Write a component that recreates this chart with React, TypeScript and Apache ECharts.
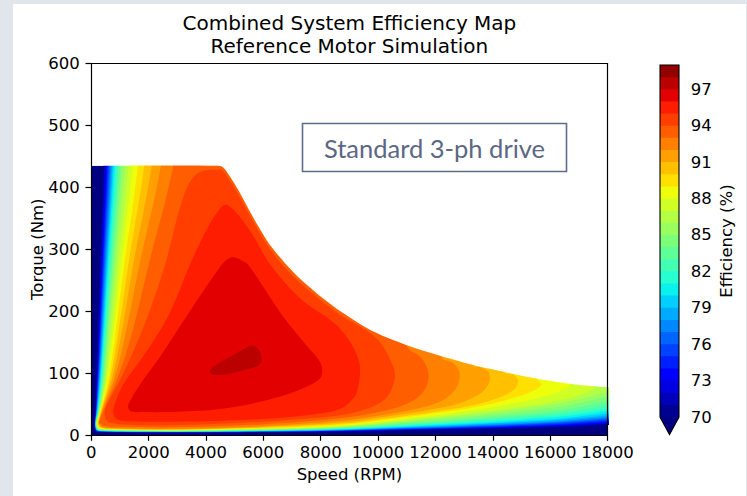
import React, { useEffect, useRef } from 'react';
import * as echarts from 'echarts';

// ---------- texts ----------
const TITLE_LINES = ['Combined System Efficiency Map', 'Reference Motor Simulation'];
const X_NAME = 'Speed (RPM)';
const Y_NAME = 'Torque (Nm)';
const CBAR_NAME = 'Efficiency (%)';
const NOTE = 'Standard 3-ph drive';

// ---------- axes ----------
const SPEED_MIN = 0;
const SPEED_MAX = 18000;
const SPEED_STEP = 2000;
const TORQUE_MIN = 0;
const TORQUE_MAX = 600;
const TORQUE_STEP = 100;
const LEVEL_MIN = 70;
const LEVEL_MAX = 99;
const CBAR_TICKS = [70, 73, 76, 79, 82, 85, 88, 91, 94, 97];

// ---------- torque envelope (max torque vs speed) ----------
const ENVELOPE_SPEED = [0, 4450, 4600, 4800, 5120, 5700, 6280, 7090, 8020, 8780, 9840, 11000, 12160, 13320, 14490, 15650, 16810, 18000];
const ENVELOPE_TORQUE = [435, 435, 432, 420, 396, 347, 304, 261, 223, 197, 167, 145, 128, 113, 101, 90, 82, 77];

// ---------- contour regions: efficiency >= level, [speed, torque] ----------
const LEVEL_70 = [[420,470],[420,433],[300,275],[245,194],[205,130],[170,85],[140,40],[120,20],[145,6.8],[240,4.9],[1000,4.2],[3000,3.8],[6000,4.4],[8672,5.5],[11000,7.3],[13000,9.0],[15000,11.0],[16500,12.9],[18000,16],[18600,17.6],[18600,470]];
const LEVEL_71 = [[450,470],[450,433],[322,275],[263,194],[218,130],[180,85],[146,40],[123,20],[148,7.0],[243,5.1],[1000,4.3],[3000,3.9],[6000,4.6],[8672,5.8],[11000,7.7],[13000,9.5],[15000,11.6],[16500,13.6],[18000,17],[18600,18.7],[18600,470]];
const LEVEL_72 = [[480,470],[480,433],[345,275],[282,194],[232,130],[190,85],[152,40],[126,20],[151,7.2],[246,5.2],[1000,4.4],[3000,4.0],[6000,4.7],[8672,6.1],[11000,8.1],[13000,10.0],[15000,12.3],[16500,14.4],[18000,18],[18600,19.8],[18600,470]];
const LEVEL_73 = [[512,470],[512,433],[368,275],[300,194],[246,130],[200,85],[158,40],[129,20],[154,7.4],[249,5.3],[1000,4.5],[3000,4.1],[6000,4.9],[8672,6.4],[11000,8.6],[13000,10.7],[15000,13.2],[16500,15.6],[18000,19.5],[18600,21.5],[18600,470]];
const LEVEL_74 = [[545,470],[545,433],[392,275],[320,194],[262,130],[212,85],[165,40],[132,20],[157,7.7],[252,5.6],[1000,4.7],[3000,4.3],[6000,5.1],[8672,6.7],[11000,9.1],[13000,11.4],[15000,14.1],[16500,16.7],[18000,21],[18600,23],[18600,470]];
const LEVEL_75 = [[580,470],[580,433],[418,275],[340,194],[278,130],[225,85],[172,40],[135,20],[160,8.1],[255,5.9],[1000,5.0],[3000,4.5],[6000,5.4],[8672,7.0],[11000,9.7],[13000,12.3],[15000,15.3],[16500,18.2],[18000,23],[18600,25],[18600,470]];
const LEVEL_76 = [[620,470],[620,433],[446,275],[362,194],[296,130],[240,85],[180,40],[138,20],[163,8.5],[258,6.1],[1000,5.2],[3000,4.7],[6000,5.6],[8672,7.3],[11000,10.3],[13000,13.1],[15000,16.5],[16500,19.7],[18000,25],[18600,27.5],[18600,470]];
const LEVEL_77 = [[660,470],[660,433],[475,275],[385,194],[315,130],[255,85],[188,40],[141,20],[166,8.8],[261,6.4],[1000,5.4],[3000,4.9],[6000,5.9],[8672,7.7],[11000,11.0],[13000,14.1],[15000,17.7],[16500,21.2],[18000,27],[18600,29.7],[18600,470]];
const LEVEL_78 = [[700,470],[700,433],[505,275],[410,194],[335,130],[272,85],[197,40],[144,20],[169,9.2],[264,6.6],[1000,5.6],[3000,5.1],[6000,6.1],[8672,8.1],[11000,11.7],[13000,15.0],[15000,19.0],[16500,22.7],[18000,29],[18600,32],[18600,470]];
const LEVEL_79 = [[740,470],[740,433],[537,275],[436,194],[356,130],[290,85],[207,40],[148,20],[173,9.5],[268,6.9],[1000,5.8],[3000,5.3],[6000,6.4],[8672,8.5],[11000,12.5],[13000,16.3],[15000,20.7],[16500,25.0],[18000,32],[18600,35],[18600,470]];
const LEVEL_80 = [[780,470],[780,433],[570,275],[462,194],[378,130],[310,85],[218,40],[152,20],[177,9.9],[272,7.2],[1000,6.1],[3000,5.5],[6000,6.7],[8672,9.0],[11000,13.4],[13000,17.6],[15000,22.5],[16500,27.2],[18000,35],[18600,38.5],[18600,470]];
const LEVEL_81 = [[830,470],[830,433],[607,275],[492,194],[402,130],[330,85],[229,40],[156,20],[181,10.3],[276,7.4],[1000,6.3],[3000,5.7],[6000,7.0],[8672,9.5],[11000,14.5],[13000,19.2],[15000,24.8],[16500,30.2],[18000,39],[18600,43],[18600,470]];
const LEVEL_82 = [[880,470],[880,433],[645,275],[523,194],[427,130],[352,85],[240,40],[161,20],[186,10.6],[281,7.7],[1000,6.5],[3000,5.9],[6000,7.3],[8672,10.0],[11000,15.6],[13000,20.9],[15000,27.2],[16500,33.1],[18000,43],[18600,47],[18600,470]];
const LEVEL_83 = [[940,470],[940,433],[688,275],[558,194],[455,130],[375,85],[252,40],[166,20],[191,11.0],[286,7.9],[1000,6.7],[3000,6.1],[6000,7.7],[8672,10.7],[11000,17.0],[13000,23.0],[15000,30.1],[16500,36.8],[18000,48],[18600,53],[18600,470]];
const LEVEL_84 = [[1000,470],[1000,433],[735,275],[595,194],[485,130],[400,85],[264,40],[172,20],[197,11.5],[292,8.3],[1000,7.0],[3000,6.4],[6000,8.1],[8672,11.3],[11000,18.6],[13000,25.4],[15000,33.5],[16500,41.2],[18000,54],[18600,59],[18600,470]];
const LEVEL_85 = [[1080,470],[1080,433],[792,275],[640,194],[520,130],[428,85],[277,40],[179,20],[204,12.1],[299,8.7],[1000,7.4],[3000,6.7],[6000,8.6],[8672,12.0],[11000,20.5],[13000,28.5],[15000,38.0],[16500,47.0],[18000,62],[18600,68],[18600,470]];
const LEVEL_86 = [[1180,470],[1180,433],[860,275],[695,194],[563,130],[460,85],[290,40],[187,20],[212,12.6],[307,9.1],[1000,7.7],[3000,7.0],[6000,9.0],[8672,12.8],[11000,22.5],[13000,31.7],[15000,42.5],[16500,52.8],[18000,70],[18600,77],[18600,470]];
const LEVEL_87 = [[1300,470],[1300,433],[940,275],[760,194],[612,130],[495,85],[303,40],[196,20],[221,13.1],[316,9.5],[1000,8.0],[3000,7.3],[6000,9.7],[8672,13.7],[11000,24],[13000,34],[15000,46],[16500,58],[17300,70],[17550,79],[17550,470]];
const LEVEL_88 = [[1440,470],[1440,433],[1035,275],[835,194],[670,130],[535,85],[317,40],[206,20],[231,13.9],[326,10.0],[1000,8.5],[3000,7.7],[6000,10.3],[8672,15],[11000,26.5],[13000,38],[14500,49],[15600,60],[16400,72],[16700,82],[16700,470]];
const LEVEL_89 = [[1620,470],[1620,433],[1150,275],[925,194],[737,130],[580,85],[333,40],[218,20],[243,14.8],[338,10.7],[1000,9.0],[3000,8.2],[6000,11.1],[8672,16.5],[10500,26],[12000,35],[13500,46],[14600,58],[15400,71],[15700,82],[15550,91],[15550,470]];
const LEVEL_90 = [[1840,470],[1840,433],[1290,275],[1035,194],[815,130],[630,85],[350,40],[231,20],[256,15.8],[351,11.4],[1000,9.7],[3000,8.8],[6000,12.0],[8672,18],[10500,28],[12000,37.5],[13300,48],[14200,60],[14750,74],[14880,88],[14700,98],[14400,102],[14400,470]];
const LEVEL_91 = [[2100,470],[2100,433],[1460,275],[1165,194],[910,130],[690,85],[368,40],[245,20],[270,16.7],[365,12.1],[1000,10.2],[3000,9.3],[6000,13.1],[8672,20],[10300,30],[11700,40],[12800,51],[13500,65],[13850,82],[13870,100],[13600,109],[13300,113],[13300,470]];
const LEVEL_92 = [[2420,470],[2420,433],[1680,275],[1330,194],[1030,130],[760,85],[390,40],[260,20],[285,17.8],[380,12.9],[1000,10.9],[3000,9.9],[6000,14.5],[8672,23],[10000,31],[11300,42],[12200,55],[12700,74],[12850,98],[12650,115],[12200,127],[12200,470]];
const LEVEL_93 = [[2850,470],[2850,433],[2000,275],[1580,194],[1200,130],[850,85],[425,40],[280,20],[340,17.5],[480,14.5],[1000,13.2],[3000,12.4],[6000,17.5],[8672,27],[10300,40],[11200,55],[11650,75],[11750,100],[11500,125],[11000,145],[11000,470]];
const LEVEL_94 = [[3720,423],[4450,429],[4600,426],[4800,413],[5120,389],[5700,340],[6280,297],[7090,254],[8020,217],[8780,191],[9400,174],[9800,162],[10150,145],[10420,122],[10590,100],[10480,75],[10200,56],[9600,42],[8672,32],[6000,21.5],[3000,16],[1500,16.3],[800,18.5],[540,23],[475,40],[960,85],[1420,130],[1980,194],[2570,275],[3250,390]];
const LEVEL_95 = [[4660,372],[5000,362],[5600,325],[6250,275],[7300,220],[8540,178],[9050,148],[9330,120],[9370,100],[9300,76],[9150,60],[8672,42],[7500,32],[6000,26],[4500,23],[3000,21.5],[1800,21.5],[1100,23],[850,27],[780,33],[760,40],[900,60],[1160,85],[1850,130],[2700,194],[3440,275],[4000,330],[4400,360]];
const LEVEL_96 = [[4950,287],[5250,282],[5475,275],[6650,194],[7500,145],[7950,120],[8050,105],[7950,90],[7200,72],[6000,55],[4500,42],[3000,37.5],[1800,37],[1400,38],[1280,45],[1350,55],[1750,85],[2450,130],[3350,194],[4545,275],[4750,284]];
const LEVEL_97 = [[4130,104],[4350,113],[4700,123],[5100,133],[5450,142],[5650,144],[5850,137],[5940,124],[5880,114],[5650,109],[5200,103],[4750,98],[4400,97],[4200,99]];

const LEVEL_REGIONS = [
  LEVEL_70, LEVEL_71, LEVEL_72, LEVEL_73, LEVEL_74, LEVEL_75, LEVEL_76, LEVEL_77, LEVEL_78, LEVEL_79,
  LEVEL_80, LEVEL_81, LEVEL_82, LEVEL_83, LEVEL_84, LEVEL_85, LEVEL_86, LEVEL_87, LEVEL_88, LEVEL_89,
  LEVEL_90, LEVEL_91, LEVEL_92, LEVEL_93, LEVEL_94, LEVEL_95, LEVEL_96, LEVEL_97,
];

// ---------- jet colormap ----------
const JET_R = [[0, 0], [0.35, 0], [0.66, 1], [0.89, 1], [1, 0.5]];
const JET_G = [[0, 0], [0.125, 0], [0.375, 1], [0.64, 1], [0.91, 0], [1, 0]];
const JET_B = [[0, 0.5], [0.11, 1], [0.34, 1], [0.65, 0], [1, 0]];
function chan(t: number, pts: number[][]) {
  for (let k = 0; k < pts.length - 1; k++) {
    const [x0, y0] = pts[k];
    const [x1, y1] = pts[k + 1];
    if (t <= x1) return y0 + ((y1 - y0) * (t - x0)) / (x1 - x0);
  }
  return pts[pts.length - 1][1];
}
function jet(t: number) {
  const c = (v: number) => Math.round(Math.max(0, Math.min(1, v)) * 255);
  return `rgb(${c(chan(t, JET_R))},${c(chan(t, JET_G))},${c(chan(t, JET_B))})`;
}
const NBANDS = LEVEL_MAX - LEVEL_MIN;
const bandColor = (lvl: number) => jet((lvl - LEVEL_MIN + 0.5) / NBANDS);
const UNDER_COLOR = jet(0);

const FONT = 'DejaVu Sans';

export default function App() {
  const ref = useRef<HTMLDivElement>(null);

  useEffect(() => {
    document.body.style.margin = '0';
    const chart = echarts.init(ref.current as HTMLDivElement, null, { renderer: 'svg' });

    const env = ENVELOPE_SPEED.map((s, i) => [s, ENVELOPE_TORQUE[i]]);
    const base = [[SPEED_MIN, 0], ...env, [SPEED_MAX, 0]];
    const lastT = ENVELOPE_TORQUE[ENVELOPE_TORQUE.length - 1];
    const mask = [...env, [SPEED_MAX + 600, lastT - 2], [SPEED_MAX + 600, TORQUE_MAX + 50], [-500, TORQUE_MAX + 50], [-500, ENVELOPE_TORQUE[0]]];

    const shapes = [
      { pts: base, color: UNDER_COLOR, smooth: 0 },
      ...LEVEL_REGIONS.map((pts, i) => ({ pts, color: bandColor(LEVEL_MIN + i), smooth: 0.35 })),
      { pts: mask, color: '#ffffff', smooth: 0.3 },
    ];

    const bandLevels: number[] = [];
    for (let l = LEVEL_MIN; l < LEVEL_MAX; l++) bandLevels.push(l);

    const axisLineStyle = { color: '#000', width: 1.2 };
    const labelStyle = { color: '#000', fontSize: 16.5, fontFamily: FONT };

    const option: any = {
      animation: false,
      backgroundColor: '#ffffff',
      grid: [
        { left: 91.3, top: 63.5, width: 516.2, height: 371.5 },
        { left: 660, top: 65, width: 19, height: 352 },
      ],
      xAxis: [
        {
          gridIndex: 0, type: 'value', min: SPEED_MIN, max: SPEED_MAX, interval: SPEED_STEP, position: 'bottom', z: 10,
          axisLine: { show: true, onZero: false, lineStyle: axisLineStyle },
          axisTick: { show: true, length: 5.8, lineStyle: axisLineStyle },
          axisLabel: { ...labelStyle, margin: 9, showMinLabel: true, showMaxLabel: true, hideOverlap: false, formatter: (v: number) => String(v) },
          splitLine: { show: false },
          name: X_NAME, nameLocation: 'middle', nameGap: 31, nameMoveOverlap: false,
          nameTextStyle: { ...labelStyle },
        },
        {
          gridIndex: 0, type: 'value', min: SPEED_MIN, max: SPEED_MAX, position: 'top', z: 10,
          axisLine: { show: true, onZero: false, lineStyle: axisLineStyle },
          axisTick: { show: false }, axisLabel: { show: false }, splitLine: { show: false },
        },
        { gridIndex: 1, type: 'value', min: 0, max: 1, show: false },
      ],
      yAxis: [
        {
          gridIndex: 0, type: 'value', min: TORQUE_MIN, max: TORQUE_MAX, interval: TORQUE_STEP, position: 'left', z: 10,
          axisLine: { show: true, onZero: false, lineStyle: axisLineStyle },
          axisTick: { show: true, length: 5.8, lineStyle: axisLineStyle },
          axisLabel: { ...labelStyle, margin: 11.6, formatter: (v: number) => String(v) },
          splitLine: { show: false },
          name: Y_NAME, nameLocation: 'middle', nameRotate: 90, nameGap: 45, nameMoveOverlap: false,
          nameTextStyle: { ...labelStyle },
        },
        {
          gridIndex: 0, type: 'value', min: TORQUE_MIN, max: TORQUE_MAX, position: 'right', z: 10,
          axisLine: { show: true, onZero: false, lineStyle: axisLineStyle },
          axisTick: { show: false }, axisLabel: { show: false }, splitLine: { show: false },
        },
        {
          gridIndex: 1, type: 'value', min: LEVEL_MIN, max: LEVEL_MAX, position: 'right',
          axisLine: { show: false },
          axisTick: { show: true, length: 5.8, lineStyle: axisLineStyle, customValues: CBAR_TICKS },
          axisLabel: { ...labelStyle, margin: 11.7, customValues: CBAR_TICKS },
          splitLine: { show: false },
          name: CBAR_NAME, nameLocation: 'middle', nameRotate: 90, nameGap: 39,
          nameTextStyle: { ...labelStyle },
        },
      ],
      series: [
        {
          type: 'custom', xAxisIndex: 0, yAxisIndex: 0, clip: true, silent: true, z: 2,
          data: shapes.map((_, i) => [0, 0, i]),
          renderItem: (params: any, api: any) => {
            const sh = shapes[params.dataIndex];
            return {
              type: 'polygon',
              shape: { points: sh.pts.map((p) => api.coord(p)), smooth: sh.smooth },
              style: { fill: sh.color, lineWidth: 0 },
            };
          },
        },
        {
          type: 'custom', xAxisIndex: 2, yAxisIndex: 2, silent: true, z: 2,
          data: [...bandLevels.map((l) => [0, l]), [0, LEVEL_MIN], [0, LEVEL_MIN]],
          renderItem: (params: any, api: any) => {
            const i = params.dataIndex;
            const a = api.coord([0, LEVEL_MIN]);
            const b = api.coord([1, LEVEL_MIN]);
            const top = api.coord([0, LEVEL_MAX]);
            const topR = api.coord([1, LEVEL_MAX]);
            const tip = [(a[0] + b[0]) / 2, a[1] + 0.05 * (a[1] - top[1])];
            if (i < bandLevels.length) {
              const lvl = bandLevels[i];
              const p = api.coord([0, lvl]);
              return {
                type: 'rect',
                shape: { x: p[0], y: top[1], width: b[0] - p[0], height: p[1] - top[1] },
                style: { fill: bandColor(lvl) },
              };
            }
            if (i === bandLevels.length) {
              return { type: 'polygon', shape: { points: [a, b, tip] }, style: { fill: UNDER_COLOR } };
            }
            return {
              type: 'polygon',
              shape: { points: [top, topR, b, tip, a] },
              style: { fill: 'none', stroke: '#000', lineWidth: 1.1 },
            };
          },
        },
      ],
      graphic: [
        { type: 'rect', z: 100, shape: { x: 0, y: 0, width: 13, height: 496 }, style: { fill: '#e1e6ed' } },
        { type: 'rect', z: 100, shape: { x: 0, y: 0, width: 747, height: 4 }, style: { fill: '#e1e6ed' } },
        { type: 'rect', z: 100, shape: { x: 746, y: 0, width: 1, height: 496 }, style: { fill: '#e1e6ed' } },
        {
          type: 'text', z: 100, x: 349.4, y: 22.5,
          style: { text: TITLE_LINES[0], fill: '#000', font: `20px "${FONT}"`, align: 'center', verticalAlign: 'middle' },
        },
        {
          type: 'text', z: 100, x: 349.4, y: 45.5,
          style: { text: TITLE_LINES[1], fill: '#000', font: `20px "${FONT}"`, align: 'center', verticalAlign: 'middle' },
        },
        {
          type: 'rect', z: 100, shape: { x: 302.5, y: 123.5, width: 264, height: 48 },
          style: { fill: '#ffffff', stroke: '#5e6b89', lineWidth: 1.6 },
        },
        {
          type: 'text', z: 101, x: 434.5, y: 147.5,
          style: { text: NOTE, fill: '#5b6784', font: '25.5px Lato', align: 'center', verticalAlign: 'middle' },
        },
      ],
    };

    chart.setOption(option);
    return () => chart.dispose();
  }, []);

  return <div ref={ref} style={{ width: 747, height: 496 }} />;
}
